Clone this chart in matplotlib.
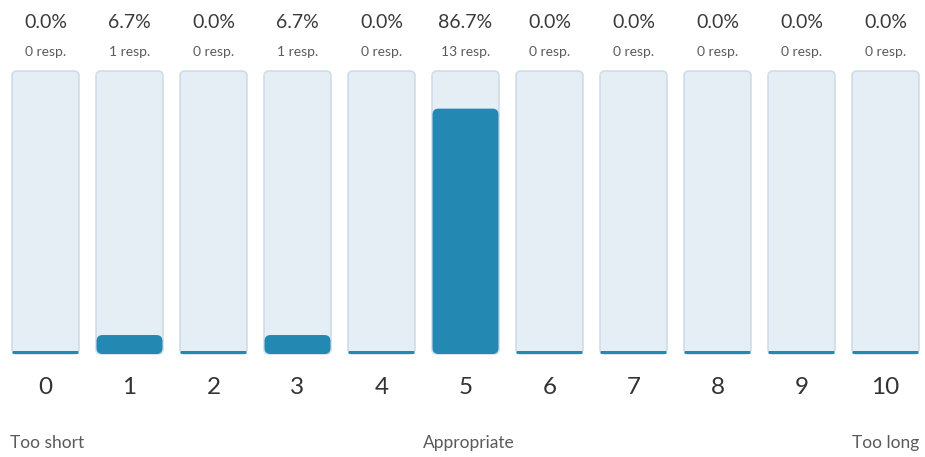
import matplotlib
matplotlib.use("Agg")
from matplotlib import pyplot as plt
from matplotlib.patches import FancyBboxPatch

plt.rcParams['font.family'] = ['Lato', 'DejaVu Sans']

scores = [0, 1, 2, 3, 4, 5, 6, 7, 8, 9, 10]
counts = [0, 1, 0, 1, 0, 13, 0, 0, 0, 0, 0]
percents = [0.0, 6.7, 0.0, 6.7, 0.0, 86.7, 0.0, 0.0, 0.0, 0.0, 0.0]
scale_labels = ['Too short', 'Appropriate', 'Too long']

W, H = 925, 457
fig = plt.figure(figsize=(W / 100, H / 100), dpi=100)
ax = fig.add_axes([0, 0, 1, 1])
ax.set_axis_off()

# pixels per data unit
px_x = 84.0
px_y = 2.83
x0 = -45.5 / px_x
ax.set_xlim(x0, x0 + W / px_x)
ax.set_ylim(-(H - 354) / px_y, 354 / px_y)
aspect = (1 / px_y) / (1 / px_x)

bg_w = 67 / px_x
bar_w = 66 / px_x
min_h = 3 / px_y

for i, (s, p) in enumerate(zip(scores, percents)):
    bg = FancyBboxPatch((s - bg_w / 2, 0), bg_w, 100,
                        boxstyle="round,pad=0,rounding_size=%f" % (5 / px_x),
                        mutation_aspect=aspect, facecolor='#e5edf5',
                        edgecolor='#cfdde9', linewidth=1.2, zorder=1)
    ax.add_patch(bg)
    if p > 0:
        bar = FancyBboxPatch((s - bar_w / 2, 0), bar_w, p,
                             boxstyle="round,pad=0,rounding_size=%f" % (6 / px_x),
                             mutation_aspect=aspect, facecolor='#2388b2',
                             edgecolor='none', zorder=2)
    else:
        bar = FancyBboxPatch((s - bar_w / 2, 0), bar_w, min_h,
                             boxstyle="round,pad=0,rounding_size=%f" % (1 / px_x),
                             mutation_aspect=aspect, facecolor='#2388b2',
                             edgecolor='none', zorder=2)
    ax.add_patch(bar)

    ax.text(s, (354 - 23) / px_y, '%.1f%%' % p, ha='center', va='center',
            fontsize=14, color='#3a3a3a')
    ax.text(s, (354 - 52) / px_y, '%d resp.' % counts[i], ha='center', va='center',
            fontsize=10, color='#5a5a5a')
    ax.text(s, -(387 - 354) / px_y, str(s), ha='center', va='center',
            fontsize=17.5, color='#333333')

ly = -(443 - 354) / px_y
ax.text(x0 + 10 / px_x, ly, scale_labels[0], ha='left', va='center',
        fontsize=12.5, color='#5a5a5a')
ax.text(scores[5] + 3 / px_x, ly, scale_labels[1], ha='center', va='center',
        fontsize=12.5, color='#5a5a5a')
ax.text(x0 + 919 / px_x, ly, scale_labels[2], ha='right', va='center',
        fontsize=12.5, color='#5a5a5a')

fig.savefig('out.png', dpi=100)
